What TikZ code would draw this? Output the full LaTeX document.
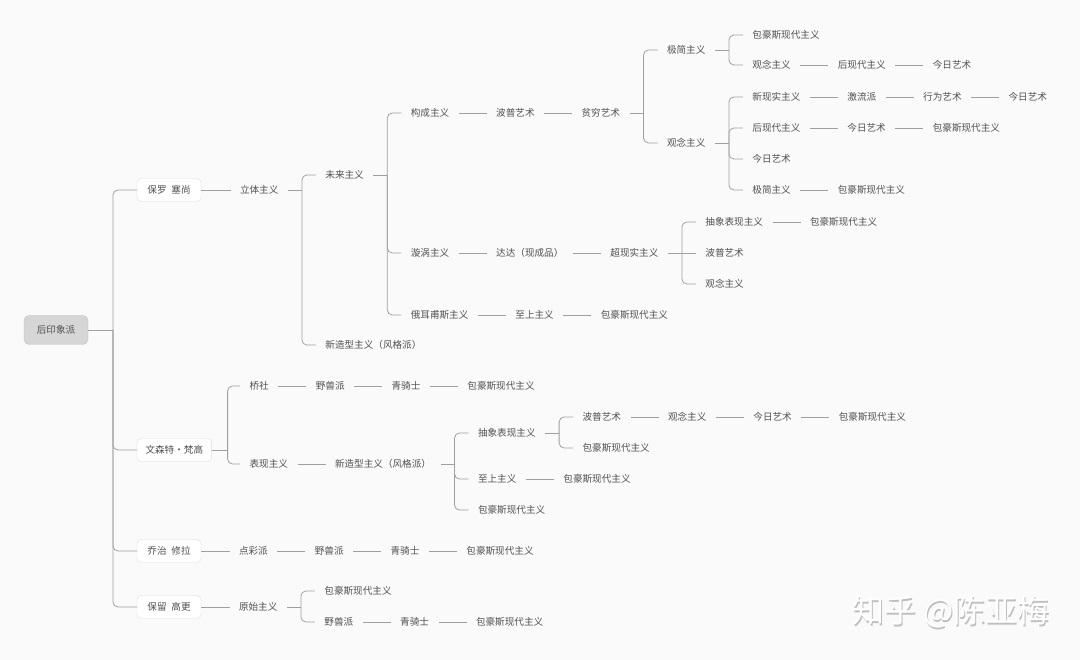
\documentclass[tikz,border=0pt]{standalone}
\usepackage{fontspec}
\setmainfont{Noto Sans CJK SC}
\usetikzlibrary{positioning}

\definecolor{bgcol}{HTML}{FAFAFA}
\definecolor{txtcol}{HTML}{505050}
\definecolor{wirecol}{HTML}{A0A0A0}
\definecolor{rootfill}{HTML}{D6D6D6}
\definecolor{rootdraw}{HTML}{C4C4C4}
\definecolor{topicdraw}{HTML}{DDDDDD}

\tikzset{
  lbl/.style={inner xsep=9.5pt, inner ysep=2pt, outer sep=0pt, text=txtcol,
    font=\fontsize{9.6}{11}\selectfont, text height=8pt, text depth=1.6pt},
  topic/.style={lbl, draw=topicdraw, fill=white, rounded corners=4pt,
    inner xsep=8.5pt, minimum width=64pt, minimum height=23pt},
  rootbox/.style={lbl, draw=rootdraw, fill=rootfill, rounded corners=5pt,
    minimum width=64pt, minimum height=29pt},
  wire/.style={draw=wirecol, line width=0.8pt, rounded corners=5pt},
  wmark/.style={font=\fontsize{32}{36}\selectfont, anchor=west, inner sep=0pt},
}

\begin{document}
\begin{tikzpicture}[x=1pt, y=-1pt]

    % fondo
    \fill[bgcol] (0,0) rectangle (1080,660);
    \useasboundingbox (0,0) rectangle (1080,660);

    % raiz
    \node[rootbox] (root) at (56,330) {后印象派};
    \coordinate (rootB) at ([xshift=25pt]root.east);
    \draw[wire] (root.east) -- (rootB);

    % primer nivel
    \node[topic, anchor=west] (pc) at (137,190) {保罗\hspace{0.5em}塞尚};
    \node[topic, anchor=west] (vg) at (137,450) {文森特·梵高};
    \node[topic, anchor=west] (gs) at (137,551) {乔治\hspace{0.5em}修拉};
    \node[topic, anchor=west] (pg) at (137,607) {保留\hspace{0.5em}高更};
    \draw[wire] (rootB) |- (pc.west);
    \draw[wire] (rootB) |- (vg.west);
    \draw[wire] (rootB) |- (gs.west);
    \draw[wire] (rootB) |- (pg.west);

    % rama 保罗 塞尚
    \node[lbl, right=29.5pt of pc] (cub) {立体主义};
    \draw[wire] (pc.east) -- (cub.west);
    \node[lbl, right=28pt of cub, yshift=15pt] (fut) {未来主义};
    \node[lbl, right=28pt of cub, yshift=-155pt] (neo1) {新造型主义（风格派）};
    \coordinate (cubB) at ([xshift=14pt]cub.east);
    \draw[wire] (cub.east) -- (cubB);
    \draw[wire] (cubB) |- (fut.west);
    \draw[wire] (cubB) |- (neo1.west);

    \node[lbl, right=28pt of fut, yshift=62pt] (con) {构成主义};
    \node[lbl, right=28pt of fut, yshift=-78pt] (vor) {漩涡主义};
    \node[lbl, right=28pt of fut, yshift=-140pt] (orp) {俄耳甫斯主义};
    \coordinate (futB) at ([xshift=14pt]fut.east);
    \draw[wire] (fut.east) -- (futB);
    \draw[wire] (futB) |- (con.west);
    \draw[wire] (futB) |- (vor.west);
    \draw[wire] (futB) |- (orp.west);

    % 构成主义
    \node[lbl, right=28pt of con] (pop1) {波普艺术};
    \node[lbl, right=28pt of pop1] (arp) {贫穷艺术};
    \draw[wire] (con.east) -- (pop1.west);
    \draw[wire] (pop1.east) -- (arp.west);
    \node[lbl, right=28pt of arp, yshift=63pt] (min1) {极简主义};
    \node[lbl, right=28pt of arp, yshift=-30pt] (cpt1) {观念主义};
    \coordinate (arpB) at ([xshift=14pt]arp.east);
    \draw[wire] (arp.east) -- (arpB);
    \draw[wire] (arpB) |- (min1.west);
    \draw[wire] (arpB) |- (cpt1.west);

    % 极简主义
    \node[lbl, right=28pt of min1, yshift=15pt] (bh1) {包豪斯现代主义};
    \node[lbl, right=28pt of min1, yshift=-15pt] (cpt2) {观念主义};
    \coordinate (min1B) at ([xshift=14pt]min1.east);
    \draw[wire] (min1.east) -- (min1B);
    \draw[wire] (min1B) |- (bh1.west);
    \draw[wire] (min1B) |- (cpt2.west);
    \node[lbl, right=28pt of cpt2] (pm1) {后现代主义};
    \node[lbl, right=28pt of pm1] (td1) {今日艺术};
    \draw[wire] (cpt2.east) -- (pm1.west);
    \draw[wire] (pm1.east) -- (td1.west);

    % 观念主义
    \node[lbl, right=28pt of cpt1, yshift=46pt] (nr) {新现实主义};
    \node[lbl, right=28pt of cpt1, yshift=15pt] (pm2) {后现代主义};
    \node[lbl, right=28pt of cpt1, yshift=-16pt] (td2) {今日艺术};
    \node[lbl, right=28pt of cpt1, yshift=-47pt] (min2) {极简主义};
    \coordinate (cpt1B) at ([xshift=14pt]cpt1.east);
    \draw[wire] (cpt1.east) -- (cpt1B);
    \draw[wire] (cpt1B) |- (nr.west);
    \draw[wire] (cpt1B) |- (pm2.west);
    \draw[wire] (cpt1B) |- (td2.west);
    \draw[wire] (cpt1B) |- (min2.west);
    \node[lbl, right=28pt of nr] (flx) {激流派};
    \node[lbl, right=28pt of flx] (prf) {行为艺术};
    \node[lbl, right=28pt of prf] (td3) {今日艺术};
    \draw[wire] (nr.east) -- (flx.west);
    \draw[wire] (flx.east) -- (prf.west);
    \draw[wire] (prf.east) -- (td3.west);
    \node[lbl, right=28pt of pm2] (td4) {今日艺术};
    \node[lbl, right=28pt of td4] (bh2) {包豪斯现代主义};
    \draw[wire] (pm2.east) -- (td4.west);
    \draw[wire] (td4.east) -- (bh2.west);
    \node[lbl, right=28pt of min2] (bh3) {包豪斯现代主义};
    \draw[wire] (min2.east) -- (bh3.west);

    % 漩涡主义
    \node[lbl, right=28pt of vor] (dada) {达达（现成品）};
    \node[lbl, right=28pt of dada] (sur) {超现实主义};
    \draw[wire] (vor.east) -- (dada.west);
    \draw[wire] (dada.east) -- (sur.west);
    \node[lbl, right=28pt of sur, yshift=31pt] (abx1) {抽象表现主义};
    \node[lbl, right=28pt of sur] (pop2) {波普艺术};
    \node[lbl, right=28pt of sur, yshift=-31pt] (cpt3) {观念主义};
    \coordinate (surB) at ([xshift=14pt]sur.east);
    \draw[wire] (sur.east) -- (pop2.west);
    \draw[wire] (surB) |- (abx1.west);
    \draw[wire] (surB) |- (cpt3.west);
    \node[lbl, right=28pt of abx1] (bh4) {包豪斯现代主义};
    \draw[wire] (abx1.east) -- (bh4.west);

    % 俄耳甫斯主义
    \node[lbl, right=28pt of orp] (sup1) {至上主义};
    \node[lbl, right=28pt of sup1] (bh5) {包豪斯现代主义};
    \draw[wire] (orp.east) -- (sup1.west);
    \draw[wire] (sup1.east) -- (bh5.west);

    % rama 文森特·梵高
    \node[lbl, right=28.5pt of vg, yshift=64pt] (brk) {桥社};
    \node[lbl, right=28.5pt of vg, yshift=-14pt] (exp) {表现主义};
    \coordinate (vgB) at ([xshift=16pt]vg.east);
    \draw[wire] (vg.east) -- (vgB);
    \draw[wire] (vgB) |- (brk.west);
    \draw[wire] (vgB) |- (exp.west);
    \node[lbl, right=28pt of brk] (fau1) {野兽派};
    \node[lbl, right=28pt of fau1] (blr1) {青骑士};
    \node[lbl, right=28pt of blr1] (bh6) {包豪斯现代主义};
    \draw[wire] (brk.east) -- (fau1.west);
    \draw[wire] (fau1.east) -- (blr1.west);
    \draw[wire] (blr1.east) -- (bh6.west);
    \node[lbl, right=28pt of exp] (neo2) {新造型主义（风格派）};
    \draw[wire] (exp.east) -- (neo2.west);
    \node[lbl, right=28pt of neo2, yshift=31pt] (abx2) {抽象表现主义};
    \node[lbl, right=28pt of neo2, yshift=-15pt] (sup2) {至上主义};
    \node[lbl, right=28pt of neo2, yshift=-46pt] (bh7) {包豪斯现代主义};
    \coordinate (neo2B) at ([xshift=14pt]neo2.east);
    \draw[wire] (neo2.east) -- (neo2B);
    \draw[wire] (neo2B) |- (abx2.west);
    \draw[wire] (neo2B) |- (sup2.west);
    \draw[wire] (neo2B) |- (bh7.west);
    \node[lbl, right=28pt of abx2, yshift=16pt] (pop3) {波普艺术};
    \node[lbl, right=28pt of abx2, yshift=-15pt] (bh8) {包豪斯现代主义};
    \coordinate (abx2B) at ([xshift=14pt]abx2.east);
    \draw[wire] (abx2.east) -- (abx2B);
    \draw[wire] (abx2B) |- (pop3.west);
    \draw[wire] (abx2B) |- (bh8.west);
    \node[lbl, right=28pt of pop3] (cpt4) {观念主义};
    \node[lbl, right=28pt of cpt4] (td5) {今日艺术};
    \node[lbl, right=28pt of td5] (bh9) {包豪斯现代主义};
    \draw[wire] (pop3.east) -- (cpt4.west);
    \draw[wire] (cpt4.east) -- (td5.west);
    \draw[wire] (td5.east) -- (bh9.west);
    \node[lbl, right=28pt of sup2] (bh10) {包豪斯现代主义};
    \draw[wire] (sup2.east) -- (bh10.west);

    % rama 乔治 修拉
    \node[lbl, right=28.5pt of gs] (ptl) {点彩派};
    \node[lbl, right=28pt of ptl] (fau2) {野兽派};
    \node[lbl, right=28pt of fau2] (blr2) {青骑士};
    \node[lbl, right=28pt of blr2] (bh11) {包豪斯现代主义};
    \draw[wire] (gs.east) -- (ptl.west);
    \draw[wire] (ptl.east) -- (fau2.west);
    \draw[wire] (fau2.east) -- (blr2.west);
    \draw[wire] (blr2.east) -- (bh11.west);

    % rama 保留 高更
    \node[lbl, right=28.5pt of pg] (prm) {原始主义};
    \draw[wire] (pg.east) -- (prm.west);
    \node[lbl, right=28pt of prm, yshift=16pt] (bh12) {包豪斯现代主义};
    \node[lbl, right=28pt of prm, yshift=-15pt] (fau3) {野兽派};
    \coordinate (prmB) at ([xshift=14pt]prm.east);
    \draw[wire] (prm.east) -- (prmB);
    \draw[wire] (prmB) |- (bh12.west);
    \draw[wire] (prmB) |- (fau3.west);
    \node[lbl, right=28pt of fau3] (blr3) {青骑士};
    \node[lbl, right=28pt of blr3] (bh13) {包豪斯现代主义};
    \draw[wire] (fau3.east) -- (blr3.west);
    \draw[wire] (blr3.east) -- (bh13.west);

    % marca de agua
    \node[wmark, text=gray!50] (wmshadow) at (853.2,613.4) {知乎 @陈亚梅};
    \node[wmark, text=white] (wm) at (852,612) {知乎 @陈亚梅};

\end{tikzpicture}
\end{document}
